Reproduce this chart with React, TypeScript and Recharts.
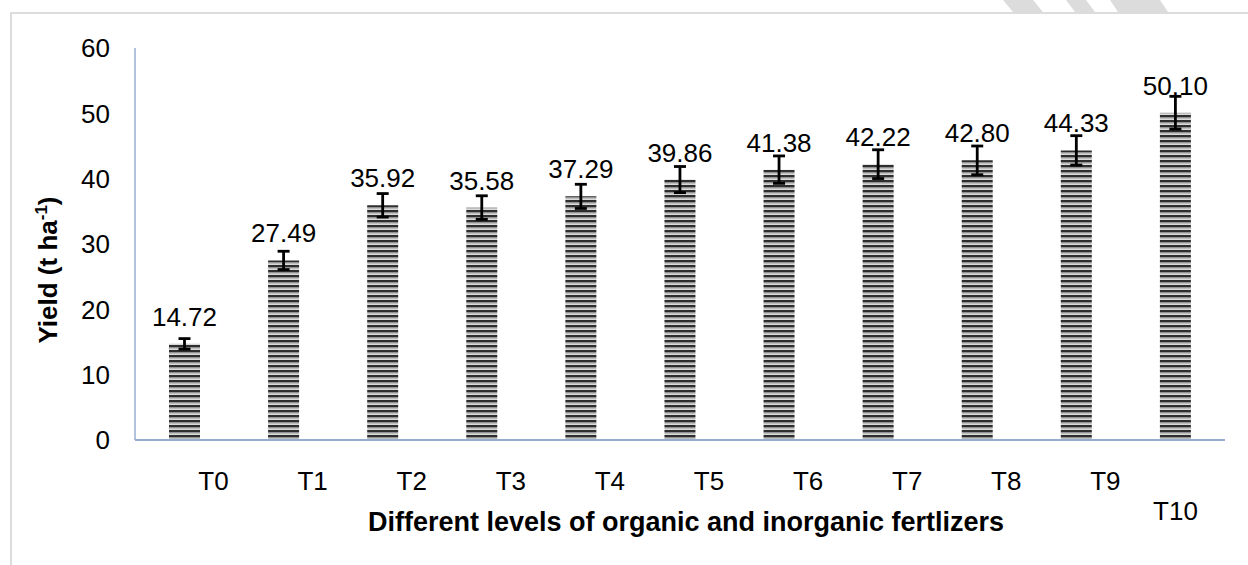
import { BarChart, Bar, XAxis, YAxis, ErrorBar, LabelList, Label } from 'recharts';

// treatments on the x axis
const categories = ['T0', 'T1', 'T2', 'T3', 'T4', 'T5', 'T6', 'T7', 'T8', 'T9', 'T10'];
// yield in t/ha
const yieldValues = [14.72, 27.49, 35.92, 35.58, 37.29, 39.86, 41.38, 42.22, 42.8, 44.33, 50.1];
// half-length of the error bars
const yieldErrors = [0.8, 1.4, 1.8, 1.8, 1.85, 2.0, 2.1, 2.2, 2.2, 2.25, 2.5];
const yTicks = [0, 10, 20, 30, 40, 50, 60];

const data = categories.map((name, i) => ({
    name,
    value: yieldValues[i],
    err: yieldErrors[i],
}));

const FONT = '"Liberation Sans", Arial, sans-serif';

const XTick = (props: any) => {
    const { x, y, payload } = props;
    const last = payload.index === categories.length - 1;
    // Excel pushed the labels to the right and wrapped the last one onto a lower line
    const tx = last ? x : x + 29;
    const ty = last ? y + 80 : y + 50;
    return (
        <text x={tx} y={ty} textAnchor="middle" fontSize={26} fontFamily={FONT} fill="#000">
            {payload.value}
        </text>
    );
};

const ValueLabel = (props: any) => {
    const { x, y, width, value } = props;
    return (
        <text x={x + width / 2} y={y - 18} textAnchor="middle" fontSize={26} fontFamily={FONT} fill="#000">
            {Number(value).toFixed(2)}
        </text>
    );
};

const YTitle = (props: any) => {
    const { viewBox } = props;
    const cx = viewBox.x + 57;
    const cy = viewBox.y + viewBox.height / 2 + 26;
    return (
        <text
            x={cx}
            y={cy}
            transform={`rotate(-90, ${cx}, ${cy})`}
            textAnchor="middle"
            fontSize={26}
            fontWeight="bold"
            fontFamily={FONT}
            fill="#000"
        >
            Yield (t ha<tspan fontSize={17} dy={-10}>-1</tspan>
            <tspan dy={10}>)</tspan>
        </text>
    );
};

export default function App() {
    return (
        <div style={{ position: 'absolute', left: 0, top: 0, width: 1248, height: 565, background: '#fff' }}>
            <div
                style={{
                    position: 'absolute',
                    left: 10,
                    top: 12,
                    width: 1260,
                    height: 570,
                    borderTop: '2px solid #dcdcdc',
                    borderLeft: '2px solid #dcdcdc',
                }}
            />
            <svg width={1248} height={14} style={{ position: 'absolute', left: 0, top: 0 }}>
                <polygon points="1003,0 1033,0 1043,12 1013,12" fill="#dcdcdc" />
                <polygon points="1066,0 1086,0 1095,12 1075,12" fill="#dcdcdc" />
                <polygon points="1110,0 1160,0 1168,12 1118,12" fill="#dcdcdc" />
            </svg>
            <div style={{ position: 'absolute', left: 0, top: 0 }}>
                <BarChart width={1248} height={565} data={data} margin={{ top: 48, right: 23, bottom: 0, left: 0 }}>
                    <defs>
                        <pattern id="hstripe" patternUnits="userSpaceOnUse" width={8} height={5}>
                            <rect x={0} y={0} width={8} height={5} fill="#bdbdbd" />
                            <rect x={0} y={0} width={8} height={2.3} fill="#2e2e2e" />
                            <rect x={0} y={4.4} width={8} height={0.6} fill="#eee" />
                        </pattern>
                    </defs>
                    <XAxis
                        dataKey="name"
                        height={125}
                        tickLine={false}
                        tickSize={0}
                        tickMargin={0}
                        interval={0}
                        axisLine={{ stroke: '#98acd0', strokeWidth: 2 }}
                        tick={<XTick />}
                    >
                        <Label
                            value="Different levels of organic and inorganic fertlizers"
                            position="insideBottom"
                            offset={34}
                            dx={6}
                            style={{ fontSize: 27, fontWeight: 'bold', fontFamily: FONT, fill: '#000' }}
                        />
                    </XAxis>
                    <YAxis
                        width={135}
                        domain={[0, 60]}
                        ticks={yTicks}
                        tickLine={false}
                        tickSize={0}
                        tickMargin={25}
                        axisLine={{ stroke: '#98acd0', strokeWidth: 1.5 }}
                        tick={{ fontSize: 26, fontFamily: FONT, fill: '#000' }}
                        label={<YTitle />}
                    />
                    <Bar dataKey="value" barSize={31} fill="url(#hstripe)" isAnimationActive={false}>
                        <ErrorBar dataKey="err" width={6} strokeWidth={2.8} stroke="#000" direction="y" />
                        <LabelList dataKey="value" content={<ValueLabel />} />
                    </Bar>
                </BarChart>
            </div>
        </div>
    );
}
